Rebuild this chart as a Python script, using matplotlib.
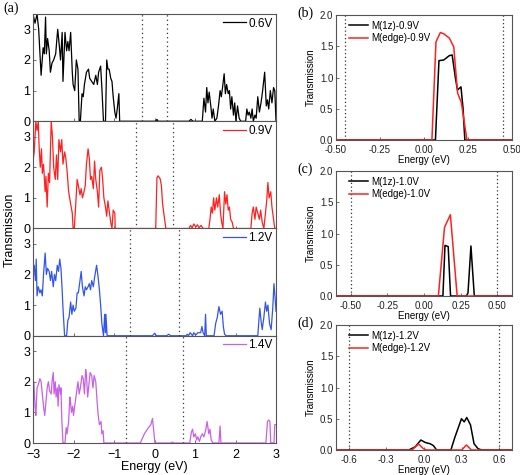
import matplotlib.pyplot as plt
from matplotlib.ticker import FormatStrFormatter

plt.rcParams['font.family'] = ['Liberation Sans', 'DejaVu Sans']

# ---------------- (a) transmission vs energy at four biases ----------------
e06 = [-3.0, -2.95, -2.90, -2.86, -2.80, -2.75, -2.72, -2.69, -2.67, -2.64, -2.60, -2.57, -2.53,
       -2.49, -2.44, -2.39, -2.36, -2.32, -2.28, -2.26, -2.21, -2.17, -2.14, -2.11, -2.07, -2.03,
       -2.01, -1.97, -1.93, -1.89, -1.86, -1.83, -1.79, -1.76, -1.73, -1.68, -1.63, -1.60, -1.55,
       -1.50, -1.45, -1.41, -1.38, -1.33, -1.30, -1.26, -1.21, -1.18, -1.15, -1.12, -1.08, -1.05,
       -1.02, -0.98, -0.95, -0.92, -0.88, -0.86, 0.03, 0.06, 0.09, 0.85, 0.90, 0.95, 1.18, 1.22,
       1.26, 1.29, 1.32, 1.35, 1.39, 1.42, 1.45, 1.49, 1.54, 1.58, 1.62, 1.65, 1.68, 1.72, 1.75,
       1.78, 1.82, 1.85, 1.88, 1.91, 1.95, 1.98, 2.01, 2.05, 2.09, 2.13, 2.25, 2.28, 2.31, 2.34,
       2.38, 2.41, 2.44, 2.48, 2.51, 2.55, 2.59, 2.63, 2.67, 2.72, 2.76, 2.79, 2.82, 2.86, 2.90,
       2.94, 2.97, 3.0]
t06 = [3.5, 3.2, 3.5, 3.0, 1.5, 2.4, 2.2, 3.4, 2.2, 2.7, 2.3, 1.6, 1.9,
       2.0, 2.2, 3.0, 2.6, 2.0, 2.9, 1.3, 2.9, 2.3, 2.6, 2.3, 2.9, 1.6,
       1.2, 1.0, 2.0, 1.7, 0.0, 0.0, 0.9, 0.8, 1.2, 1.6, 1.7, 1.4, 1.3,
       1.2, 1.5, 1.2, 1.6, 1.8, 1.1, 0.0, 0.0, 2.0, 1.7, 1.7, 1.4, 1.3,
       0.8, 0.3, 0.1, 0.4, 0.9, 0.0, 0.0, 0.06, 0.0, 0.0, 0.06, 0.0, 0.0, 0.75,
       0.3, 1.1, 0.6, 0.95, 0.5, 0.1, 0.4, 0.0, 0.1, 0.5, 1.0, 0.8, 1.1, 1.55, 0.9,
       1.2, 0.9, 1.0, 0.4, 0.8, 0.2, 0.6, 0.0, 0.5, 0.1, 0.0, 0.0, 0.4, 0.2, 0.3,
       0.1, 0.4, 0.0, 0.2, 0.1, 0.8, 0.3, 0.6, 1.0, 1.6, 0.5, 0.7, 0.4, 1.0, 0.6,
       1.1, 1.0, 0.0]

e09 = [-3.0, -2.97, -2.93, -2.90, -2.87, -2.85, -2.82, -2.79, -2.77, -2.74, -2.70, -2.68, -2.65,
       -2.62, -2.59, -2.55, -2.52, -2.49, -2.45, -2.42, -2.39, -2.36, -2.32, -2.29, -2.26, -2.22,
       -2.19, -2.16, -2.12, -2.07, -2.03, -2.01, -1.98, -1.94, -1.91, -1.88, -1.84, -1.81, -1.78,
       -1.74, -1.71, -1.68, -1.64, -1.61, -1.58, -1.55, -1.51, -1.48, -1.45, -1.41, -1.38, -1.35,
       -1.31, -1.28, -1.25, -1.21, -1.18, -1.15, -1.12, -1.08, -1.05, -1.02, -0.98, -0.97,
       0.03, 0.06, 0.09, 0.14, 0.17, 0.20, 0.23, 0.28, 0.85, 0.89, 0.93, 0.97, 1.02, 1.06, 1.10,
       1.15, 1.20, 1.34, 1.37, 1.40, 1.43, 1.46, 1.49, 1.53, 1.56, 1.60, 1.63, 1.66, 1.69, 1.73,
       1.76, 1.79, 1.82, 1.85, 1.88, 1.92, 1.95, 2.38, 2.41, 2.44, 2.48, 2.51, 2.55, 2.59, 2.62,
       2.66, 2.70, 2.74, 2.77, 2.80, 2.83, 2.87, 2.90, 2.94, 2.97, 3.0]
t09 = [2.2, 2.5, 3.5, 3.2, 3.5, 2.7, 2.0, 2.6, 1.8, 2.1, 1.2, 1.7, 0.7,
       1.8, 1.5, 3.5, 3.0, 2.0, 1.6, 2.4, 1.6, 2.9, 2.5, 2.9, 2.1, 2.5,
       2.3, 1.9, 1.2, 0.8, 0.5, 0.0, 0.0, 0.9, 1.6, 1.4, 1.1, 1.3, 1.0,
       1.2, 1.4, 2.1, 2.6, 2.3, 1.6, 1.7, 1.3, 2.2, 1.6, 1.2, 0.7, 1.9,
       2.0, 1.6, 1.0, 0.7, 0.4, 0.9, 0.6, 0.2, 0.0, 0.6, 0.5, 0.0,
       0.0, 1.65, 1.72, 1.62, 1.4, 0.8, 0.5, 0.0, 0.0, 0.1, 0.02, 0.15, 0.05, 0.12, 0.02,
       0.1, 0.0, 0.0, 0.3, 0.7, 0.5, 1.0, 0.6, 1.0, 0.7, 1.1, 0.5, 0.2, 0.0, 1.2,
       0.8, 1.1, 0.6, 0.7, 0.3, 0.2, 0.0, 0.0, 0.5, 0.7, 0.3, 0.7, 0.5, 0.3, 0.6,
       0.2, 0.0, 0.5, 0.9, 1.5, 1.0, 1.2, 0.7, 0.3, 0.0, 0.0]

e12 = [-3.0, -2.97, -2.94, -2.92, -2.90, -2.87, -2.83, -2.80, -2.77, -2.74, -2.70, -2.67, -2.64,
       -2.60, -2.57, -2.54, -2.50, -2.47, -2.44, -2.40, -2.37, -2.34, -2.31, -2.28, -2.26, -2.22,
       -2.17, -2.14, -2.11, -2.07, -2.04, -2.01, -1.98, -1.94, -1.91, -1.88, -1.84, -1.81, -1.78,
       -1.74, -1.71, -1.68, -1.64, -1.61, -1.58, -1.55, -1.51, -1.48, -1.43, -1.40, -1.36, -1.33,
       -1.30, -1.26, -1.23, -1.21, -1.20, -1.17, -0.05, 0.0, 0.05, 0.30, 0.35, 0.40, 0.78, 0.81,
       0.84, 0.88, 0.91, 0.94, 0.97, 1.01, 1.04, 1.07, 1.10, 1.14, 1.17, 1.20, 1.24, 1.26, 1.28,
       1.47, 1.51, 1.55, 1.59, 1.63, 1.67, 1.70, 1.73, 1.77, 2.55, 2.60, 2.63, 2.66, 2.70, 2.74,
       2.77, 2.80, 2.84, 2.88, 2.92, 2.95, 2.98, 3.0]
t12 = [2.0, 2.3, 1.8, 2.5, 1.3, 1.6, 1.4, 1.5, 1.3, 2.0, 2.7, 2.0, 2.2,
       2.1, 1.8, 2.1, 1.6, 2.0, 1.8, 2.3, 2.1, 2.5, 2.2, 1.5, 0.9, 0.0,
       0.0, 0.5, 0.6, 1.1, 0.7, 1.0, 0.8, 0.9, 1.4, 1.4, 1.8, 2.1, 1.6,
       1.3, 1.6, 1.5, 1.6, 1.7, 1.5, 1.8, 1.6, 1.9, 2.3, 2.0, 1.5, 1.0,
       0.4, 0.0, 0.7, 0.1, 0.7, 0.0, 0.0, 0.08, 0.0, 0.0, 0.05, 0.0, 0.0, 0.05,
       0.0, 0.1, 0.05, 0.0, 0.1, 0.03, 0.05, 0.1, 0.1, 0.1, 0.3, 0.1, 0.0, 0.7, 0.0,
       0.0, 0.4, 0.6, 0.95, 0.7, 0.8, 0.3, 0.05, 0.0, 0.0, 0.9, 0.5, 0.2, 0.6, 1.1,
       0.8, 1.0, 0.4, 0.2, 0.9, 1.7, 1.2, 0.8]

e14 = [-3.0, -2.98, -2.95, -2.93, -2.90, -2.87, -2.83, -2.80, -2.77, -2.74, -2.71, -2.69, -2.65,
       -2.62, -2.59, -2.55, -2.53, -2.50, -2.48, -2.45, -2.43, -2.40, -2.38, -2.36, -2.32, -2.31,
       -2.29, -2.26, -2.21, -2.18, -2.16, -2.12, -2.09, -2.07, -2.05, -2.02, -2.00, -1.98, -1.95,
       -1.93, -1.89, -1.86, -1.83, -1.79, -1.76, -1.73, -1.70, -1.68, -1.65, -1.62, -1.59, -1.55,
       -1.52, -1.49, -1.45, -1.42, -1.39, -1.36, -1.32, -1.30, -1.27, -1.25, -0.35, -0.25, -0.15,
       -0.09, -0.05, 0.01, 0.40, 0.44, 0.48, 0.87, 0.91, 0.94, 0.97, 1.01, 1.04, 1.07, 1.11, 1.14,
       1.18, 1.22, 1.26, 1.30, 1.34, 1.37, 1.40, 1.44, 1.59, 1.62, 1.64, 2.75, 2.79, 2.82, 2.85,
       2.87, 2.95, 2.97, 3.0]
t14 = [1.5, 2.0, 1.2, 0.9, 1.8, 1.9, 2.1, 2.0, 1.6, 1.2, 0.9, 1.2, 1.8,
       2.0, 1.7, 1.6, 2.0, 2.3, 1.6, 2.0, 1.5, 1.8, 1.2, 1.9, 1.6, 1.8,
       0.8, 0.0, 0.0, 0.5, 0.3, 0.7, 1.5, 1.3, 1.0, 1.2, 0.9, 1.1, 1.4,
       1.6, 2.0, 1.6, 1.8, 2.2, 2.1, 1.6, 2.4, 2.2, 1.5, 1.9, 2.3, 2.2,
       1.8, 2.2, 2.0, 1.4, 0.9, 0.6, 0.7, 0.3, 0.4, 0.0, 0.0, 0.3, 0.5,
       0.6, 0.8, 0.0, 0.0, 0.03, 0.0, 0.0, 0.35, 0.45, 0.2, 0.3, 0.1, 0.2, 0.05, 0.2,
       0.3, 0.2, 0.4, 0.7, 0.3, 0.45, 0.1, 0.0, 0.0, 0.55, 0.0, 0.0, 0.7, 0.75, 0.7,
       0.0, 0.0, 0.6, 0.6]

labels_a = ['0.6V', '0.9V', '1.2V', '1.4V']
bias_a = [0.6, 0.9, 1.2, 1.4]
colors_a = ['black', '#ff2020', '#3355e8', '#c860ea']

# ---------------- (b)-(d) M(1z) vs M(edge) ----------------
eb_1z = [-0.5, 0.065, 0.085, 0.112, 0.144, 0.16, 0.178, 0.19, 0.21, 0.222, 0.232, 0.5]
tb_1z = [0.0, 0.0, 1.27, 1.28, 1.35, 1.36, 1.0, 0.8, 0.85, 0.5, 0.0, 0.0]
eb_ed = [-0.5, 0.045, 0.068, 0.093, 0.112, 0.144, 0.169, 0.191, 0.212, 0.228, 0.244, 0.5]
tb_ed = [0.0, 0.0, 1.57, 1.72, 1.7, 1.63, 1.49, 0.75, 0.6, 0.3, 0.0, 0.0]

ec_1z = [-0.6, 0.129, 0.143, 0.165, 0.181, 0.289, 0.30, 0.32, 0.343, 0.6]
tc_1z = [0.0, 0.0, 0.81, 0.79, 0.0, 0.0, 0.05, 0.8, 0.0, 0.0]
ec_ed = [-0.6, 0.098, 0.14, 0.18, 0.226, 0.6]
tc_ed = [0.0, 0.0, 1.1, 1.3, 0.0, 0.0]

ed_1z = [-0.7, -0.122, -0.07, -0.025, 0.01, 0.049, 0.075, 0.10, 0.214, 0.245, 0.298,
         0.32, 0.34, 0.37, 0.398, 0.43, 0.46, 0.7]
td_1z = [0.0, 0.0, 0.05, 0.16, 0.12, 0.10, 0.07, 0.0, 0.0, 0.2, 0.5,
         0.45, 0.52, 0.4, 0.1, 0.02, 0.0, 0.0]
ed_ed = [-0.7, -0.096, -0.043, -0.004, 0.02, 0.30, 0.337, 0.377, 0.7]
td_ed = [0.0, 0.0, 0.096, 0.02, 0.0, 0.0, 0.08, 0.0, 0.0]

right_data = [
    ('(b)', '0.9V', eb_1z, tb_1z, eb_ed, tb_ed, (-0.5, 0.5), [-0.5, -0.25, 0, 0.25, 0.5], '%.2f', 0.45),
    ('(c)', '1.0V', ec_1z, tc_1z, ec_ed, tc_ed, (-0.6, 0.6), [-0.5, -0.25, 0, 0.25, 0.5], '%.2f', 0.5),
    ('(d)', '1.2V', ed_1z, td_1z, ed_ed, td_ed, (-0.7, 0.7), [-0.6, -0.3, 0, 0.3, 0.6], '%.1f', 0.6),
]

W, H = 520, 475
fig = plt.figure(figsize=(W / 100, H / 100), dpi=100)
spine_c = '#555555'

# left stack
top, bot = 14, 443
ph = (bot - top) / 4
curves = [(e06, t06), (e09, t09), (e12, t12), (e14, t14)]
for i, (e, t) in enumerate(curves):
    y0 = top + ph * i
    ax = fig.add_axes([33 / W, 1 - (y0 + ph) / H, (276 - 33) / W, ph / H])
    ax.plot(e, t, color=colors_a[i], lw=0.9, label=labels_a[i])
    for xv in (-bias_a[i] / 2, bias_a[i] / 2):
        ax.axvline(xv, color='#333333', lw=0.9, ls=(0, (1, 2.5)))
    ax.set_xlim(-3, 3)
    ax.set_ylim(0, 3.5)
    ax.set_yticks([0, 1, 2, 3])
    ax.set_xticks([-3, -2, -1, 0, 1, 2, 3])
    ax.tick_params(direction='in', length=2.5, width=0.6, labelsize=9, pad=2, colors=spine_c,
                   labelcolor='black')
    ax.tick_params(axis='x', pad=4)
    for s in ax.spines.values():
        s.set_color(spine_c)
        s.set_linewidth(0.8)
    if i < 3:
        ax.set_xticklabels([])
    else:
        ax.set_xlabel('Energy (eV)', fontsize=9, labelpad=0)
    ax.legend(loc='upper right', frameon=False, fontsize=8.5, handlelength=1.9,
              handletextpad=0.2, borderaxespad=0.1, borderpad=0.2)

fig.text(10 / W, 1 - 230 / H, 'Transmission', rotation=90, fontsize=9, ha='center', va='center')
fig.text(3 / W, 1 - 8 / H, '(a)', family='Liberation Serif', fontsize=10, va='center')

# right panels
tops = [15, 171, 325]
for (tag, v, e1, t1, e2, t2, xl, xt, fmt, dl), yt in zip(right_data, tops):
    ax = fig.add_axes([336 / W, 1 - (yt + 125) / H, 176 / W, 125 / H])
    ax.plot(e1, t1, color='black', lw=1.1, label='M(1z)-' + v)
    ax.plot(e2, t2, color='#ff2020', lw=1.1, label='M(edge)-' + v)
    for xv in (-dl, dl):
        ax.axvline(xv, color='#333333', lw=0.9, ls=(0, (1, 2)))
    ax.set_xlim(*xl)
    ax.set_ylim(0, 2.0)
    ax.set_xticks(xt)
    ax.set_yticks([0, 0.5, 1.0, 1.5, 2.0])
    ax.xaxis.set_major_formatter(FormatStrFormatter(fmt))
    ax.yaxis.set_major_formatter(FormatStrFormatter('%.1f'))
    ax.tick_params(direction='in', length=2.5, width=0.6, labelsize=7, pad=2, colors=spine_c,
                   labelcolor='#222222')
    ax.tick_params(axis='x', pad=3.5)
    for s in ax.spines.values():
        s.set_color(spine_c)
        s.set_linewidth(0.8)
    ax.set_xlabel('Energy (eV)', fontsize=7, labelpad=0)
    ax.set_ylabel('Transmission', fontsize=7, labelpad=3)
    ax.legend(loc='upper left', frameon=False, fontsize=7, handlelength=2.0,
              handletextpad=0.3, labelspacing=0.25, borderaxespad=0.2,
              bbox_to_anchor=(0.04, 1.0))
    fig.text(297 / W, 1 - (yt - 2) / H, tag, family='Liberation Serif', fontsize=10, va='center')

fig.savefig('out.png', dpi=100)
